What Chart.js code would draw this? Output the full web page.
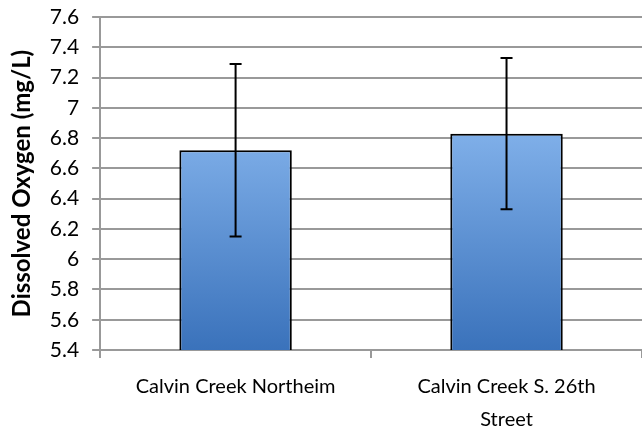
<!DOCTYPE html>
<html>
<head>
<meta charset="utf-8">
<script src="https://cdn.jsdelivr.net/npm/chart.js@4/dist/chart.umd.min.js"></script>
<style>
  body{margin:0;background:#fff;}
  #wrap{width:642px;height:432px;}
</style>
</head>
<body>
<div id="wrap"><canvas id="doChart"></canvas></div>
<script>
// dissolved oxygen means with +/- error bars
var sites=[['Calvin Creek Northeim'],['Calvin Creek S. 26th','Street']];
var meanDO=[6.72,6.83];
var errDO=[0.57,0.5];
var yTicks=[5.4,7.6,0.2]; // min, max, step

// error bar plugin, drawn through the y scale
var errorBars={
  id:'errorBars',
  afterDatasetsDraw:function(chart){
    var ctx=chart.ctx, y=chart.scales.y;
    var meta=chart.getDatasetMeta(0);
    ctx.save();
    ctx.strokeStyle='#000';
    ctx.lineWidth=2;
    meta.data.forEach(function(bar,i){
      var hi=y.getPixelForValue(meanDO[i]+errDO[i]);
      var lo=y.getPixelForValue(meanDO[i]-errDO[i]);
      ctx.beginPath();
      ctx.moveTo(bar.x,hi);ctx.lineTo(bar.x,lo);
      ctx.moveTo(bar.x-6,hi);ctx.lineTo(bar.x+6,hi);
      ctx.moveTo(bar.x-6,lo);ctx.lineTo(bar.x+6,lo);
      ctx.stroke();
    });
    ctx.restore();
  }
};

var ctx=document.getElementById("doChart").getContext("2d");
var chart=new Chart(ctx,{
  type:'bar',
  data:{
    labels:sites,
    datasets:[{
      data:meanDO,
      backgroundColor:function(c){
        var a=c.chart.chartArea;
        if(!a) return '#5b8fd6';
        var g=c.chart.ctx.createLinearGradient(0,a.top+120,0,a.bottom);
        g.addColorStop(0,'#7eaee8');
        g.addColorStop(1,'#3a72bb');
        return g;
      },
      borderColor:'#000',
      borderWidth:2,
      borderSkipped:false,
      barPercentage:0.415,
      categoryPercentage:1
    }]
  },
  options:{
    responsive:true,
    maintainAspectRatio:false,
    animation:false,
    layout:{padding:{top:0,right:0,bottom:-16,left:8}},
    plugins:{legend:{display:false},tooltip:{enabled:false}},
    scales:{
      x:{
        grid:{drawOnChartArea:false,drawTicks:true,tickLength:8,color:'#999',lineWidth:2},
        border:{color:'#999',width:2},
        ticks:{color:'#000',font:{family:'Lato',size:20,lineHeight:1.65},padding:12,maxRotation:0}
      },
      y:{
        min:yTicks[0],max:yTicks[1],
        grid:{color:'#999',lineWidth:2,tickLength:8},
        border:{color:'#999',width:2},
        ticks:{stepSize:yTicks[2],color:'#000',font:{family:'Lato',size:21,lineHeight:0.4},padding:13,
          callback:function(v){return Number(v.toFixed(1)).toString();}},
        title:{display:true,text:'Dissolved Oxygen (mg/L)',color:'#000',
          font:{family:'Lato',size:24,weight:'bold'},padding:{top:0,bottom:0}}
      }
    }
  },
  plugins:[errorBars]
});
</script>
</body>
</html>
